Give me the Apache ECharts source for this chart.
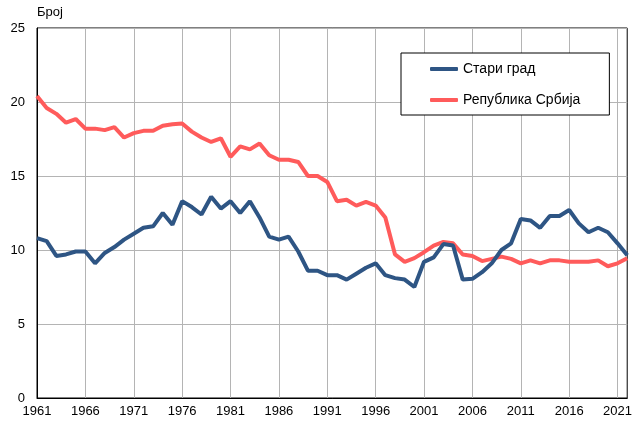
<!DOCTYPE html>
<html>
<head>
    <meta charset="utf-8">
    <title>ECharts</title>
    <script type="text/javascript" src="https://cdn.jsdelivr.net/npm/echarts@6/dist/echarts.min.js"></script>
</head>
<body style="margin:0">
<div id="main" style="width: 635px;height:421px;"></div>
<script type="text/javascript">
    var myChart = echarts.init(document.getElementById('main'));

    // године 1961-2022
    var years = [];
    for (var y = 1961; y <= 2022; y++) {
        years.push(String(y));
    }

    var seriesNames = ['Стари град', 'Република Србија'];

    // Стари град
    var stariGrad = [
        10.8, 10.6, 9.6, 9.7, 9.9, 9.9, 9.1, 9.8, 10.2, 10.7,
        11.1, 11.5, 11.6, 12.5, 11.7, 13.3, 12.9, 12.4, 13.6, 12.8,
        13.3, 12.5, 13.3, 12.2, 10.9, 10.7, 10.9, 9.9, 8.6, 8.6,
        8.3, 8.3, 8.0, 8.4, 8.8, 9.1, 8.3, 8.1, 8.0, 7.5,
        9.2, 9.5, 10.4, 10.3, 8.0, 8.05, 8.5, 9.1, 10.0, 10.45,
        12.1, 12.0, 11.5, 12.3, 12.3, 12.7, 11.8, 11.2, 11.5, 11.2,
        10.45, 9.65
    ];

    // Република Србија
    var srbija = [
        20.4, 19.6, 19.2, 18.6, 18.85, 18.2, 18.2, 18.1, 18.3, 17.6,
        17.9, 18.05, 18.05, 18.4, 18.5, 18.55, 18.0, 17.6, 17.3, 17.55,
        16.3, 17.0, 16.8, 17.2, 16.4, 16.1, 16.1, 15.95, 15.0, 15.0,
        14.6, 13.3, 13.4, 13.0, 13.25, 13.0, 12.2, 9.7, 9.2, 9.45,
        9.85, 10.3, 10.55, 10.45, 9.7, 9.6, 9.25, 9.4, 9.55, 9.4,
        9.1, 9.3, 9.1, 9.3, 9.3, 9.2, 9.2, 9.2, 9.3, 8.9,
        9.1, 9.45
    ];

    var font = 'Liberation Sans, Arial, sans-serif';

    var option = {
        animation: false,
        grid: {
            left: 37,
            right: 7,
            top: 28,
            bottom: 23,
            show: true,
            borderColor: '#000',
            borderWidth: 1
        },
        legend: {
            data: seriesNames,
            orient: 'vertical',
            left: 401,
            top: 53,
            padding: [9, 29, 8, 29],
            itemGap: 17,
            itemWidth: 28,
            itemHeight: 4,
            icon: 'roundRect',
            backgroundColor: '#fff',
            borderColor: '#000',
            borderWidth: 1,
            borderRadius: 0,
            textStyle: {
                fontFamily: font,
                fontSize: 14,
                color: '#000'
            }
        },
        xAxis: {
            type: 'category',
            boundaryGap: false,
            data: years,
            axisLine: {lineStyle: {color: '#000', width: 1}},
            axisTick: {show: false},
            axisLabel: {
                interval: 4,
                margin: 7,
                fontFamily: font,
                fontSize: 13,
                color: '#000'
            },
            splitLine: {
                show: true,
                interval: 4,
                lineStyle: {color: '#b4b4b4', width: 1}
            }
        },
        yAxis: {
            type: 'value',
            min: 0,
            max: 25,
            interval: 5,
            name: 'Број',
            nameLocation: 'end',
            nameGap: 9,
            nameTextStyle: {
                align: 'left',
                fontFamily: font,
                fontSize: 13,
                color: '#000'
            },
            axisLine: {show: true, lineStyle: {color: '#000', width: 1}},
            axisTick: {show: false},
            axisLabel: {
                margin: 12,
                fontFamily: font,
                fontSize: 13,
                color: '#000'
            },
            splitLine: {lineStyle: {color: '#b4b4b4', width: 1}}
        },
        series: [
            {
                name: seriesNames[0],
                type: 'line',
                data: stariGrad,
                symbol: 'none',
                z: 3,
                lineStyle: {color: '#2e5584', width: 4},
                itemStyle: {color: '#2e5584'}
            },
            {
                name: seriesNames[1],
                type: 'line',
                data: srbija,
                symbol: 'none',
                z: 2,
                lineStyle: {color: '#ff5b5b', width: 4},
                itemStyle: {color: '#ff5b5b'}
            }
        ]
    };

    myChart.setOption(option);
</script>
</body>
</html>
